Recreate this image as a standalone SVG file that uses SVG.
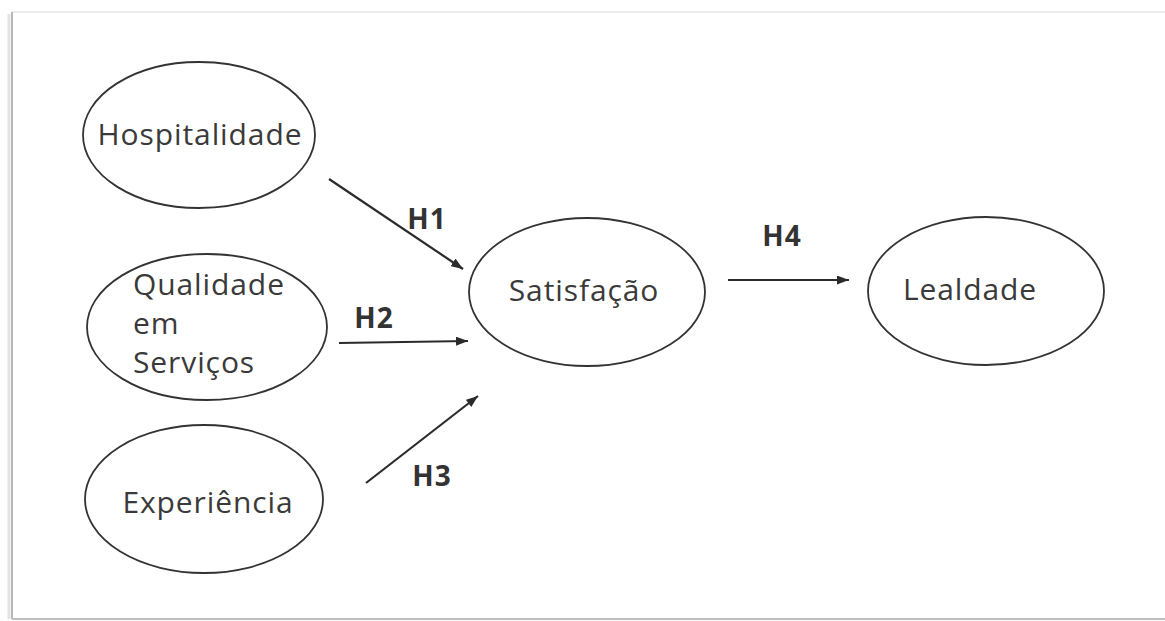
<svg xmlns="http://www.w3.org/2000/svg" width="1165" height="621" viewBox="0 0 1165 621">
  <style>
    .node ellipse { fill: #ffffff; stroke: #333333; stroke-width: 1.8; }
    .node text { font-family: "Open Sans", "Noto Sans", "DejaVu Sans", sans-serif; font-size: 30px; letter-spacing: 0.9px; fill: #3a3a3a; }
    .edge line { stroke: #2b2b2b; stroke-width: 2.2; marker-end: url(#arrow); }
    .label { font-family: "Open Sans", "Noto Sans", "DejaVu Sans", sans-serif; font-size: 28px; font-weight: bold; letter-spacing: 1px; fill: #333333; }
  </style>
  <defs>
    <marker id="arrow" viewBox="0 0 12 9" refX="12" refY="4.5" markerWidth="12" markerHeight="9" markerUnits="userSpaceOnUse" orient="auto">
      <path d="M0,0 L12,4.5 L0,9 z" fill="#2b2b2b"/>
    </marker>
  </defs>

  <!-- page background and frame -->
  <rect x="0" y="0" width="1165" height="621" fill="#ffffff"/>
  <g id="frame" fill="none">
    <line x1="12" y1="12" x2="1165" y2="12" stroke="#e6e6e6" stroke-width="1.5"/>
    <line x1="12" y1="12" x2="12" y2="619" stroke="#b8b8b8" stroke-width="2"/>
    <line x1="9" y1="14" x2="9" y2="619" stroke="#e4e4e4" stroke-width="3"/>
    <line x1="12" y1="619" x2="1165" y2="619" stroke="#bdbdbd" stroke-width="2"/>
  </g>

  <g id="hospitalidade" class="node">
    <ellipse cx="199" cy="135" rx="116" ry="73"/>
    <text x="200" y="145" text-anchor="middle">Hospitalidade</text>
  </g>

  <g id="qualidade" class="node">
    <ellipse cx="207" cy="327" rx="120" ry="73"/>
    <text x="133" y="295">Qualidade</text>
    <text x="133" y="334">em</text>
    <text x="133" y="373">Serviços</text>
  </g>

  <g id="experiencia" class="node">
    <ellipse cx="204" cy="499" rx="119" ry="74"/>
    <text x="208" y="513" text-anchor="middle">Experiência</text>
  </g>

  <g id="satisfacao" class="node">
    <ellipse cx="587" cy="292" rx="118" ry="74"/>
    <text x="584" y="301" text-anchor="middle">Satisfação</text>
  </g>

  <g id="lealdade" class="node">
    <ellipse cx="986" cy="291" rx="118" ry="74"/>
    <text x="970" y="300" text-anchor="middle">Lealdade</text>
  </g>

  <g id="connectors">
    <g class="edge"><line x1="329" y1="179" x2="463" y2="269"/></g>
    <g class="edge"><line x1="339" y1="343" x2="468" y2="341"/></g>
    <g class="edge"><line x1="366" y1="483" x2="478" y2="396"/></g>
    <g class="edge"><line x1="728" y1="280" x2="849" y2="280"/></g>
    <text class="label" x="427" y="229" text-anchor="middle">H1</text>
    <text class="label" x="374" y="328" text-anchor="middle">H2</text>
    <text class="label" x="432" y="486" text-anchor="middle">H3</text>
    <text class="label" x="782" y="246" text-anchor="middle">H4</text>
  </g>
</svg>
